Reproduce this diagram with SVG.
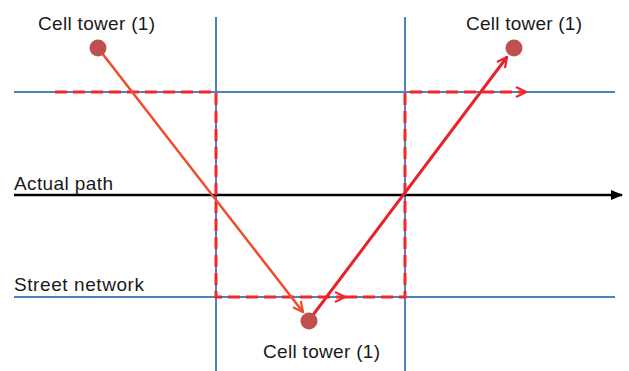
<svg xmlns="http://www.w3.org/2000/svg" width="629" height="371" viewBox="0 0 629 371">
<style>
.street{stroke:#4f81bd;stroke-width:2;fill:none}
.dash{stroke:#f0282d;stroke-width:3;stroke-dasharray:12,6;fill:none}
.lbl{font-family:"Liberation Sans",Arial,sans-serif;font-size:19px;fill:#1a1a1a}
.tower{fill:#c0504d}
</style>
<defs>
<marker id="chev" viewBox="0 0 12 12" refX="11" refY="6" markerWidth="12" markerHeight="12" markerUnits="userSpaceOnUse" orient="auto">
<path d="M1,1 L11,6 L1,11" fill="none" stroke="#f0282d" stroke-width="2.2"/>
</marker>
<marker id="arrO" viewBox="0 0 12 12" refX="11" refY="6" markerWidth="12" markerHeight="12" markerUnits="userSpaceOnUse" orient="auto">
<path d="M1,1 L11,6 L1,11" fill="none" stroke="#f04b2a" stroke-width="2.2"/>
</marker>
<marker id="arrR" viewBox="0 0 12 12" refX="11" refY="6" markerWidth="12" markerHeight="12" markerUnits="userSpaceOnUse" orient="auto">
<path d="M1,1 L11,6 L1,11" fill="none" stroke="#e8222a" stroke-width="2.2"/>
</marker>
<marker id="arrK" viewBox="0 0 12 12" refX="11" refY="6" markerWidth="12" markerHeight="12" markerUnits="userSpaceOnUse" orient="auto">
<path d="M0,1 L12,6 L0,11 Z" fill="#000"/>
</marker>
</defs>
<g id="streets">
<line class="street" x1="14" y1="92" x2="615" y2="92"/>
<line class="street" x1="14" y1="297" x2="615" y2="297"/>
<line class="street" x1="216" y1="17" x2="216" y2="371"/>
<line class="street" x1="405" y1="17" x2="405" y2="371"/>
</g>
<g id="connectors">
<line x1="14" y1="195" x2="622" y2="195" stroke="#000" stroke-width="2.5" marker-end="url(#arrK)"/>
<path class="dash" d="M55,92 H216 V297 H345" marker-end="url(#chev)"/>
<path class="dash" d="M345,297 H405 V92 H526" marker-end="url(#chev)"/>
<line x1="98" y1="48" x2="303" y2="312" stroke="#f04b2a" stroke-width="2.5" marker-end="url(#arrO)"/>
<line x1="313" y1="315" x2="507" y2="57" stroke="#e8222a" stroke-width="3" marker-end="url(#arrR)"/>
</g>
<g id="tower-top-left">
<circle class="tower" cx="98" cy="48" r="8.5"/>
<text class="lbl" x="38" y="30" textLength="117">Cell tower (1)</text>
</g>
<g id="tower-top-right">
<circle class="tower" cx="514" cy="48" r="8.5"/>
<text class="lbl" x="466" y="30" textLength="116">Cell tower (1)</text>
</g>
<g id="tower-bottom">
<circle class="tower" cx="309" cy="321" r="8.5"/>
<text class="lbl" x="263" y="358" textLength="117">Cell tower (1)</text>
</g>
<g id="label-actual-path">
<text class="lbl" x="14" y="190" textLength="99">Actual path</text>
</g>
<g id="label-street-network">
<text class="lbl" x="14" y="291" textLength="130">Street network</text>
</g>
</svg>
